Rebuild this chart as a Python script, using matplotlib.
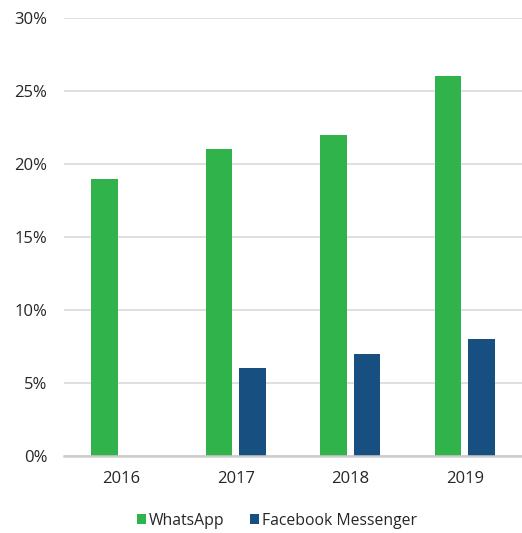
import matplotlib.pyplot as plt
import numpy as np
from matplotlib.ticker import FuncFormatter

# Daten
JAHRE = ['2016', '2017', '2018', '2019']
WHATSAPP = [19, 21, 22, 26]
MESSENGER = [0, 6, 7, 8]

GRUEN = '#2fb34a'
BLAU = '#164f80'

plt.rcParams['font.family'] = ['Open Sans', 'DejaVu Sans']

fig = plt.figure(figsize=(5.22, 5.33), dpi=100)
ax = fig.add_axes([0.1226, 0.1445, 0.8774, 0.8217])

x = np.arange(len(JAHRE))
breite = 0.232
versatz = 0.145
ax.bar(x - versatz, WHATSAPP, breite, color=GRUEN, label='WhatsApp', zorder=3)
ax.bar(x + versatz, MESSENGER, breite, color=BLAU, label='Facebook Messenger', zorder=3)

ax.set_xlim(-0.5, len(JAHRE) - 0.5)
ax.set_ylim(0, 30)
ax.set_yticks(range(0, 31, 5))
ax.yaxis.set_major_formatter(FuncFormatter(lambda v, p: f'{v:.0f}%'))
ax.set_xticks(x)
ax.set_xticklabels(JAHRE)

ax.grid(axis='y', color='#d9d9d9', linewidth=1.2, zorder=0)
for s in ['top', 'right', 'left']:
    ax.spines[s].set_visible(False)
ax.spines['bottom'].set_color('#cccccc')
ax.spines['bottom'].set_linewidth(1.8)
ax.spines['bottom'].set_zorder(4)
ax.tick_params(axis='both', length=0, labelsize=12, colors='#262626')
ax.tick_params(axis='x', pad=11)
ax.tick_params(axis='y', pad=12)

ax.legend(loc='center', bbox_to_anchor=(0.465, -0.148), ncol=2, frameon=False,
          fontsize=11.3, handlelength=0.6, handleheight=0.6, handletextpad=0.2,
          columnspacing=1.6, labelcolor='#262626')

fig.savefig('out.png', dpi=100)
